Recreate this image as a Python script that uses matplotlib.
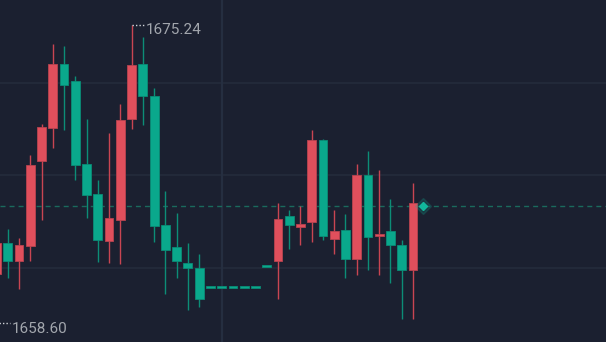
import numpy as np
import matplotlib.pyplot as plt

# OHLC (flat bars in the middle = no-trade gap)
opens = [1661.34, 1663.08, 1662.06, 1662.88, 1667.65, 1669.51, 1673.06, 1672.10,
         1667.48, 1665.80, 1663.16, 1664.35, 1669.99, 1673.08, 1671.26, 1664.06,
         1662.86, 1661.97, 1661.69, 1660.61, 1660.61, 1660.61, 1660.61, 1660.61,
         1661.80, 1662.05, 1664.56, 1663.98, 1664.22, 1668.80, 1663.31, 1663.79,
         1662.17, 1666.85, 1663.50, 1663.72, 1662.94, 1661.56]
highs = [1663.35, 1663.85, 1663.36, 1667.98, 1669.70, 1674.18, 1674.07, 1672.38,
         1669.99, 1666.59, 1669.23, 1670.83, 1675.24, 1674.55, 1671.74, 1665.95,
         1664.76, 1663.08, 1662.45, 1660.61, 1660.61, 1660.61, 1660.61, 1660.61,
         1661.80, 1665.32, 1664.91, 1665.12, 1669.38, 1668.85, 1664.91, 1664.69,
         1667.48, 1668.20, 1667.14, 1665.52, 1663.24, 1666.43]
lows = [1658.60, 1661.11, 1660.48, 1662.06, 1664.35, 1668.36, 1669.38, 1666.59,
        1664.48, 1662.02, 1661.97, 1661.89, 1669.45, 1669.64, 1663.14, 1660.22,
        1661.13, 1659.33, 1659.51, 1660.61, 1660.61, 1660.61, 1660.61, 1660.61,
        1661.80, 1659.96, 1662.75, 1662.94, 1663.14, 1663.24, 1662.45, 1661.13,
        1661.28, 1661.56, 1661.28, 1660.85, 1658.84, 1658.84]
closes = [1663.07, 1662.06, 1662.94, 1667.41, 1669.56, 1673.06, 1671.89, 1667.42,
          1665.75, 1663.24, 1664.48, 1669.94, 1673.01, 1671.26, 1664.00, 1662.68,
          1662.05, 1661.69, 1659.96, 1660.61, 1660.61, 1660.61, 1660.61, 1660.61,
          1661.80, 1664.41, 1664.07, 1664.13, 1668.80, 1663.44, 1663.72, 1662.17,
          1666.85, 1663.39, 1663.57, 1662.96, 1661.56, 1665.32]
last_price = 1665.15
max_label = "1675.24"
min_label = "1658.60"

bg = "#1b2030"
up_col = "#e04f5c"
up_wick = "#c94552"
dn_col = "#0aa88c"
dn_wick = "#0c8d77"

o = np.array(opens)
h = np.array(highs)
l = np.array(lows)
c = np.array(closes)
x = np.arange(len(o))
up = c > o

fig = plt.figure(figsize=(6.06, 3.42), dpi=100, facecolor=bg)
ax = fig.add_axes([0, 0, 1, 1])
ax.set_facecolor(bg)
ax.set_xlim(0.307, 54.15)
ax.set_ylim(1657.54, 1676.64)
ax.set_axis_off()

# grid
for gy in [1672.02, 1666.86, 1661.69]:
    ax.axhline(gy, color="#252d3d", lw=1.1, zorder=0)
ax.axvline(20, color="#252e40", lw=1.6, zorder=0)

# last price line
ax.axhline(last_price, color="#1a6a5d", lw=1.0, ls=(0, (3.6, 2.9)), zorder=1)

# wicks
ax.vlines(x[up], l[up], h[up], color=up_wick, lw=1.0, zorder=2)
ax.vlines(x[~up], l[~up], h[~up], color=dn_wick, lw=1.0, zorder=2)

# bodies
minh = 0.1
bottom = np.minimum(o, c)
height = np.maximum(np.abs(c - o), minh)
bottom = np.where(np.abs(c - o) < minh, bottom - minh / 2, bottom)
ax.bar(x[up], height[up], bottom=bottom[up], width=0.78, color=up_col,
       edgecolor="#b8434f", linewidth=0.6, zorder=3)
ax.bar(x[~up], height[~up], bottom=bottom[~up], width=0.78, color=dn_col,
       edgecolor="#0a8c76", linewidth=0.6, zorder=3)

# max / min labels
imax = int(np.argmax(h))
imin = int(np.argmin(l))
ax.plot([imax, imax + 1.15], [h[imax], h[imax]], ls=(0, (1, 1.5)), color="#d0d3d8", lw=1.0, zorder=4)
ax.annotate(max_label, (imax, h[imax]), xytext=(10.4, -3.4), textcoords="offset points",
            va="center", ha="left", color="#a2a6ad", fontsize=11, family="Roboto",
            annotation_clip=False)
ax.plot([imin, imin + 1.2], [l[imin], l[imin]], ls=(0, (1, 1.5)), color="#d0d3d8", lw=1.0, zorder=4)
ax.annotate(min_label, (imin, l[imin]), xytext=(10.9, -4.0), textcoords="offset points",
            va="center", ha="left", color="#a2a6ad", fontsize=11, family="Roboto",
            annotation_clip=False)

# glowing marker for the latest price
px = len(o) - 1 + 0.9
ax.plot(px, last_price, marker="D", ms=8, color="#10b59a", alpha=0.18, zorder=5)
ax.plot(px, last_price, marker="D", ms=4.2, color="#12b89c", zorder=6)

fig.savefig("out.png", dpi=100, facecolor=bg)
